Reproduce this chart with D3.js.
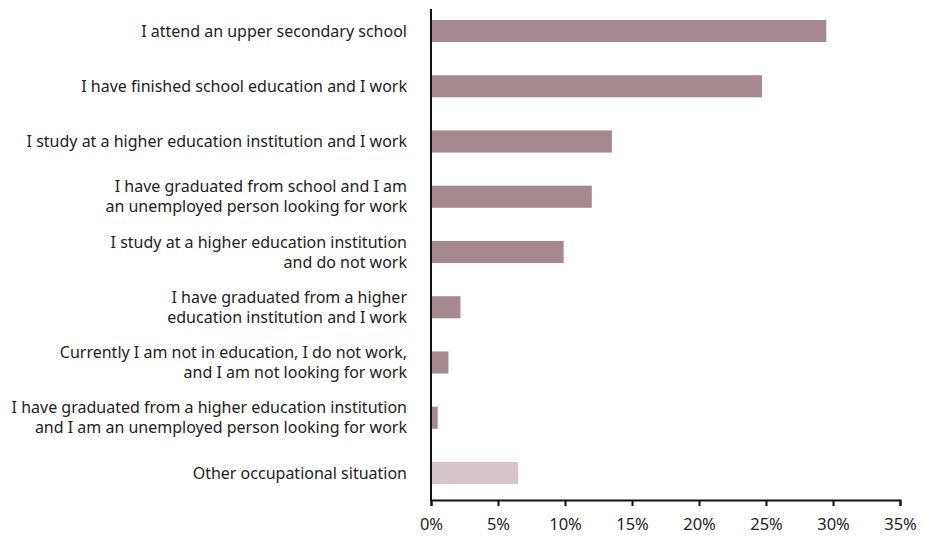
<!DOCTYPE html>
<html>
<head>
<meta charset="utf-8">
<script src="https://cdn.jsdelivr.net/npm/d3@7"></script>
<style>
  html, body { margin: 0; padding: 0; background: #ffffff; }
  svg { display: block; }
  text { font-family: "Noto Sans", sans-serif; fill: #222; }
</style>
</head>
<body>
<div id="chart"></div>
<script>
const categories = [
  "I attend an upper secondary school",
  "I have finished school education and I work",
  "I study at a higher education institution and I work",
  "I have graduated from school and I am\nan unemployed person looking for work",
  "I study at a higher education institution\nand do not work",
  "I have graduated from a higher\neducation institution and I work",
  "Currently I am not in education, I do not work,\nand I am not looking for work",
  "I have graduated from a higher education institution\nand I am an unemployed person looking for work",
  "Other occupational situation"
];
const values = [29.5, 24.7, 13.5, 12.0, 9.9, 2.2, 1.3, 0.5, 6.5];
const isOther = [false, false, false, false, false, false, false, false, true];
const tickValues = [0, 5, 10, 15, 20, 25, 30, 35];

const W = 927, H = 536;
const svg = d3.select("#chart").append("svg").attr("width", W).attr("height", H);

const x = d3.scaleLinear().domain([0, 35]).range([431, 900]);
const y = d3.scaleBand().domain(d3.range(categories.length)).range([3.4, 500.6])
  .paddingInner(0.6).paddingOuter(0.3);

// bars
svg.append("g").selectAll("rect").data(values).join("rect")
  .attr("x", x(0))
  .attr("y", (d, i) => y(i))
  .attr("width", d => x(d) - x(0))
  .attr("height", y.bandwidth())
  .attr("fill", (d, i) => isOther[i] ? "#d6c5cb" : "#a68891");

// category labels
const lab = svg.append("g").selectAll("text").data(categories).join("text")
  .attr("text-anchor", "end")
  .attr("font-size", 16)
  .attr("transform", (d, i) => `translate(407,${y(i) + y.bandwidth() / 2})`);
lab.each(function(d) {
  const lines = d.split("\n");
  const t = d3.select(this);
  const lh = 20;
  lines.forEach((ln, k) => {
    t.append("tspan").attr("x", 0)
      .attr("y", (k - (lines.length - 1) / 2) * lh)
      .attr("dy", "0.35em")
      .text(ln);
  });
});

// y axis line
svg.append("line").attr("x1", x(0)).attr("x2", x(0)).attr("y1", 9).attr("y2", 501)
  .attr("stroke", "#111").attr("stroke-width", 2);

// x axis
const xAxis = svg.append("g").attr("transform", "translate(0,500)")
  .call(d3.axisBottom(x).tickValues(tickValues).tickFormat(d => d + "%").tickSize(6).tickPadding(12));
xAxis.select(".domain").attr("stroke", "#111").attr("stroke-width", 2);
xAxis.selectAll(".tick line").attr("stroke", "#111").attr("stroke-width", 2);
xAxis.selectAll(".tick text").attr("font-size", 16.5).attr("font-family", "Noto Sans, sans-serif").attr("fill", "#222");
</script>
</body>
</html>
